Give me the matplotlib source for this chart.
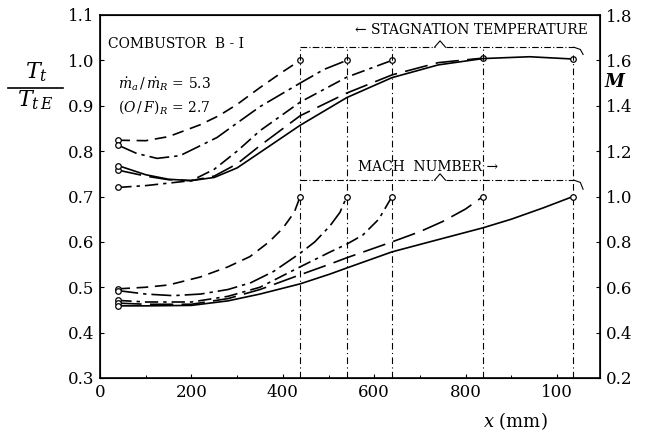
import matplotlib
matplotlib.use("Agg")
import matplotlib.pyplot as plt
import numpy as np

plt.rcParams['font.family'] = ['DejaVu Serif']
plt.rcParams['mathtext.fontset'] = 'dejavuserif'

# ---- data ----
stations = [438, 540, 639, 838, 1035]   # end positions x (mm)

# Stagnation temperature ratio Tt/TtE (left axis)
tt_x_438 = [40, 100, 150, 219, 260, 300, 350, 400, 438]
tt_y_438 = [0.824, 0.823, 0.832, 0.858, 0.878, 0.903, 0.94, 0.975, 1.0]
tt_x_540 = [40, 80, 125, 175, 256, 300, 350, 438, 490, 540]
tt_y_540 = [0.813, 0.795, 0.784, 0.79, 0.83, 0.862, 0.898, 0.95, 0.98, 1.0]
tt_x_639 = [40, 100, 200, 250, 300, 350, 438, 540, 639]
tt_y_639 = [0.72, 0.724, 0.735, 0.76, 0.80, 0.845, 0.908, 0.963, 1.0]
tt_x_838 = [40, 100, 150, 200, 250, 300, 350, 438, 540, 639, 740, 838]
tt_y_838 = [0.758, 0.745, 0.737, 0.735, 0.745, 0.772, 0.812, 0.878, 0.928, 0.968, 0.995, 1.005]
tt_x_1035 = [40, 100, 150, 200, 250, 300, 350, 438, 540, 639, 740, 838, 940, 1035]
tt_y_1035 = [0.768, 0.748, 0.738, 0.735, 0.742, 0.763, 0.797, 0.857, 0.918, 0.962, 0.99, 1.004, 1.008, 1.003]

# Mach number M (right axis)
m_x_438 = [40, 100, 150, 219, 280, 328, 370, 400, 425, 438]
m_y_438 = [0.593, 0.6, 0.61, 0.645, 0.69, 0.735, 0.8, 0.86, 0.93, 1.0]
m_x_540 = [40, 100, 160, 220, 280, 330, 380, 438, 470, 503, 525, 540]
m_y_540 = [0.585, 0.57, 0.563, 0.57, 0.59, 0.62, 0.67, 0.75, 0.8, 0.87, 0.93, 1.0]
m_x_639 = [40, 100, 200, 280, 350, 438, 503, 540, 575, 610, 639]
m_y_639 = [0.542, 0.535, 0.535, 0.56, 0.6, 0.69, 0.755, 0.79, 0.83, 0.9, 1.0]
m_x_838 = [40, 100, 200, 280, 350, 438, 503, 540, 639, 700, 750, 800, 838]
m_y_838 = [0.53, 0.525, 0.525, 0.55, 0.59, 0.655, 0.702, 0.73, 0.80, 0.845, 0.89, 0.945, 1.0]
m_x_1035 = [40, 100, 200, 280, 350, 438, 503, 540, 639, 740, 838, 900, 970, 1035]
m_y_1035 = [0.518, 0.518, 0.52, 0.54, 0.57, 0.615, 0.658, 0.685, 0.756, 0.81, 0.862, 0.9, 0.95, 1.0]

left_ticks = [0.3, 0.4, 0.5, 0.6, 0.7, 0.8, 0.9, 1.0, 1.1]
right_ticks = [0.2, 0.4, 0.6, 0.8, 1.0, 1.2, 1.4, 1.6, 1.8]
x_ticks = [0, 200, 400, 600, 800, 1000]
x_tick_labels = ['0', '200', '400', '600', '800', '100']

styles = [(0, (7, 4)), (0, (12, 3, 2, 3)), (0, (8, 3, 2, 3)), (0, (14, 5)), '-']

tt_series = [(tt_x_438, tt_y_438), (tt_x_540, tt_y_540), (tt_x_639, tt_y_639),
             (tt_x_838, tt_y_838), (tt_x_1035, tt_y_1035)]
m_series = [(m_x_438, m_y_438), (m_x_540, m_y_540), (m_x_639, m_y_639),
            (m_x_838, m_y_838), (m_x_1035, m_y_1035)]

fig = plt.figure(figsize=(6.49, 4.37), dpi=100)
ax = fig.add_axes([100/649, 1-378/437, 500/649, 363/437])
ax.set_xlim(0, 1094)
ax.set_ylim(0.3, 1.1)
ax2 = ax.twinx()
ax2.set_ylim(0.2, 1.8)

for (x, y), ls in zip(tt_series, styles):
    ax.plot(x, y, color='black', lw=1.2, ls=ls)
    ax.plot([x[0], x[-1]], [y[0], y[-1]], ls='none', marker='o', ms=4,
            mfc='white', mec='black', mew=0.9)
for (x, y), ls in zip(m_series, styles):
    ax2.plot(x, y, color='black', lw=1.2, ls=ls)
    ax2.plot([x[0], x[-1]], [y[0], y[-1]], ls='none', marker='o', ms=4,
             mfc='white', mec='black', mew=0.9)

# station lines and braces
t_brace = 1.029
m_brace_t = 0.736
for s in stations:
    ax.plot([s, s], [0.3, t_brace if s != stations[-1] else 1.012], color='black',
            lw=0.8, ls=(0, (6, 3, 1, 3)))
xb0, xb1 = stations[0], stations[-1] + 12
xm = 744
for yb, dip in [(t_brace, 0.016), (m_brace_t, 0.02)]:
    ax.plot([xb0, xm - 12], [yb, yb], color='black', lw=0.8, ls=(0, (6, 2, 1, 2)))
    ax.plot([xm - 12, xm, xm + 12], [yb, yb + 0.014, yb], color='black', lw=0.8)
    ax.plot([xm + 12, xb1 - 10], [yb, yb], color='black', lw=0.8, ls=(0, (6, 2, 1, 2)))
    ax.plot([xb1 - 10, xb1 + 4, xb1 + 10], [yb, yb - 0.005, yb - dip], color='black', lw=0.8)

# ticks
ax.set_yticks(left_ticks)
ax.set_yticklabels(['%.1f' % v for v in left_ticks])
ax2.set_yticks(right_ticks)
ax2.set_yticklabels(['%.1f' % v for v in right_ticks])
ax.set_xticks(x_ticks)
ax.set_xticklabels(x_tick_labels)
ax.set_xticks(np.arange(100, 1094, 100), minor=True)
for a in (ax, ax2):
    a.tick_params(axis='both', labelsize=12, direction='in', length=3, width=0.8, pad=4)
    a.tick_params(which='minor', direction='in', length=2, width=0.7)
for sp in ax.spines.values():
    sp.set_linewidth(1.2)

# labels and text
fig.text(37/649, 1-72/437, r'$T_t$', fontsize=16, ha='center', va='center')
fig.add_artist(plt.Line2D([8/649, 63/649], [1-88/437, 1-88/437], color='black', lw=1.2))
fig.text(35/649, 1-100/437, r'$T_{t\,E}$', fontsize=16, ha='center', va='center')
fig.text(614/649, 1-82/437, r'$\boldsymbol{M}$' if False else 'M', fontsize=13,
         ha='center', va='center', fontweight='bold', style='italic')
fig.text(515/649, 1-421/437, r'$x$ (mm)', fontsize=13, ha='center', va='center')

ax.text(108/649*0+0.016, 0.92, 'COMBUSTOR  B - I', transform=ax.transAxes,
        fontsize=10, ha='left', va='center')
ax.text(0.036, 0.81, r'$\dot{m}_a\,/\,\dot{m}_R$ = 5.3', transform=ax.transAxes,
        fontsize=10, ha='left', va='center')
ax.text(0.036, 0.745, r'$(O\,/\,F)_R$ = 2.7', transform=ax.transAxes,
        fontsize=10, ha='left', va='center')
ax.text(0.975, 0.96, '\u2190 STAGNATION TEMPERATURE', transform=ax.transAxes,
        fontsize=10, ha='right', va='center')
ax.text(0.515, 0.58, 'MACH  NUMBER \u2192', transform=ax.transAxes,
        fontsize=10, ha='left', va='center')

fig.savefig('out.png', dpi=100)
